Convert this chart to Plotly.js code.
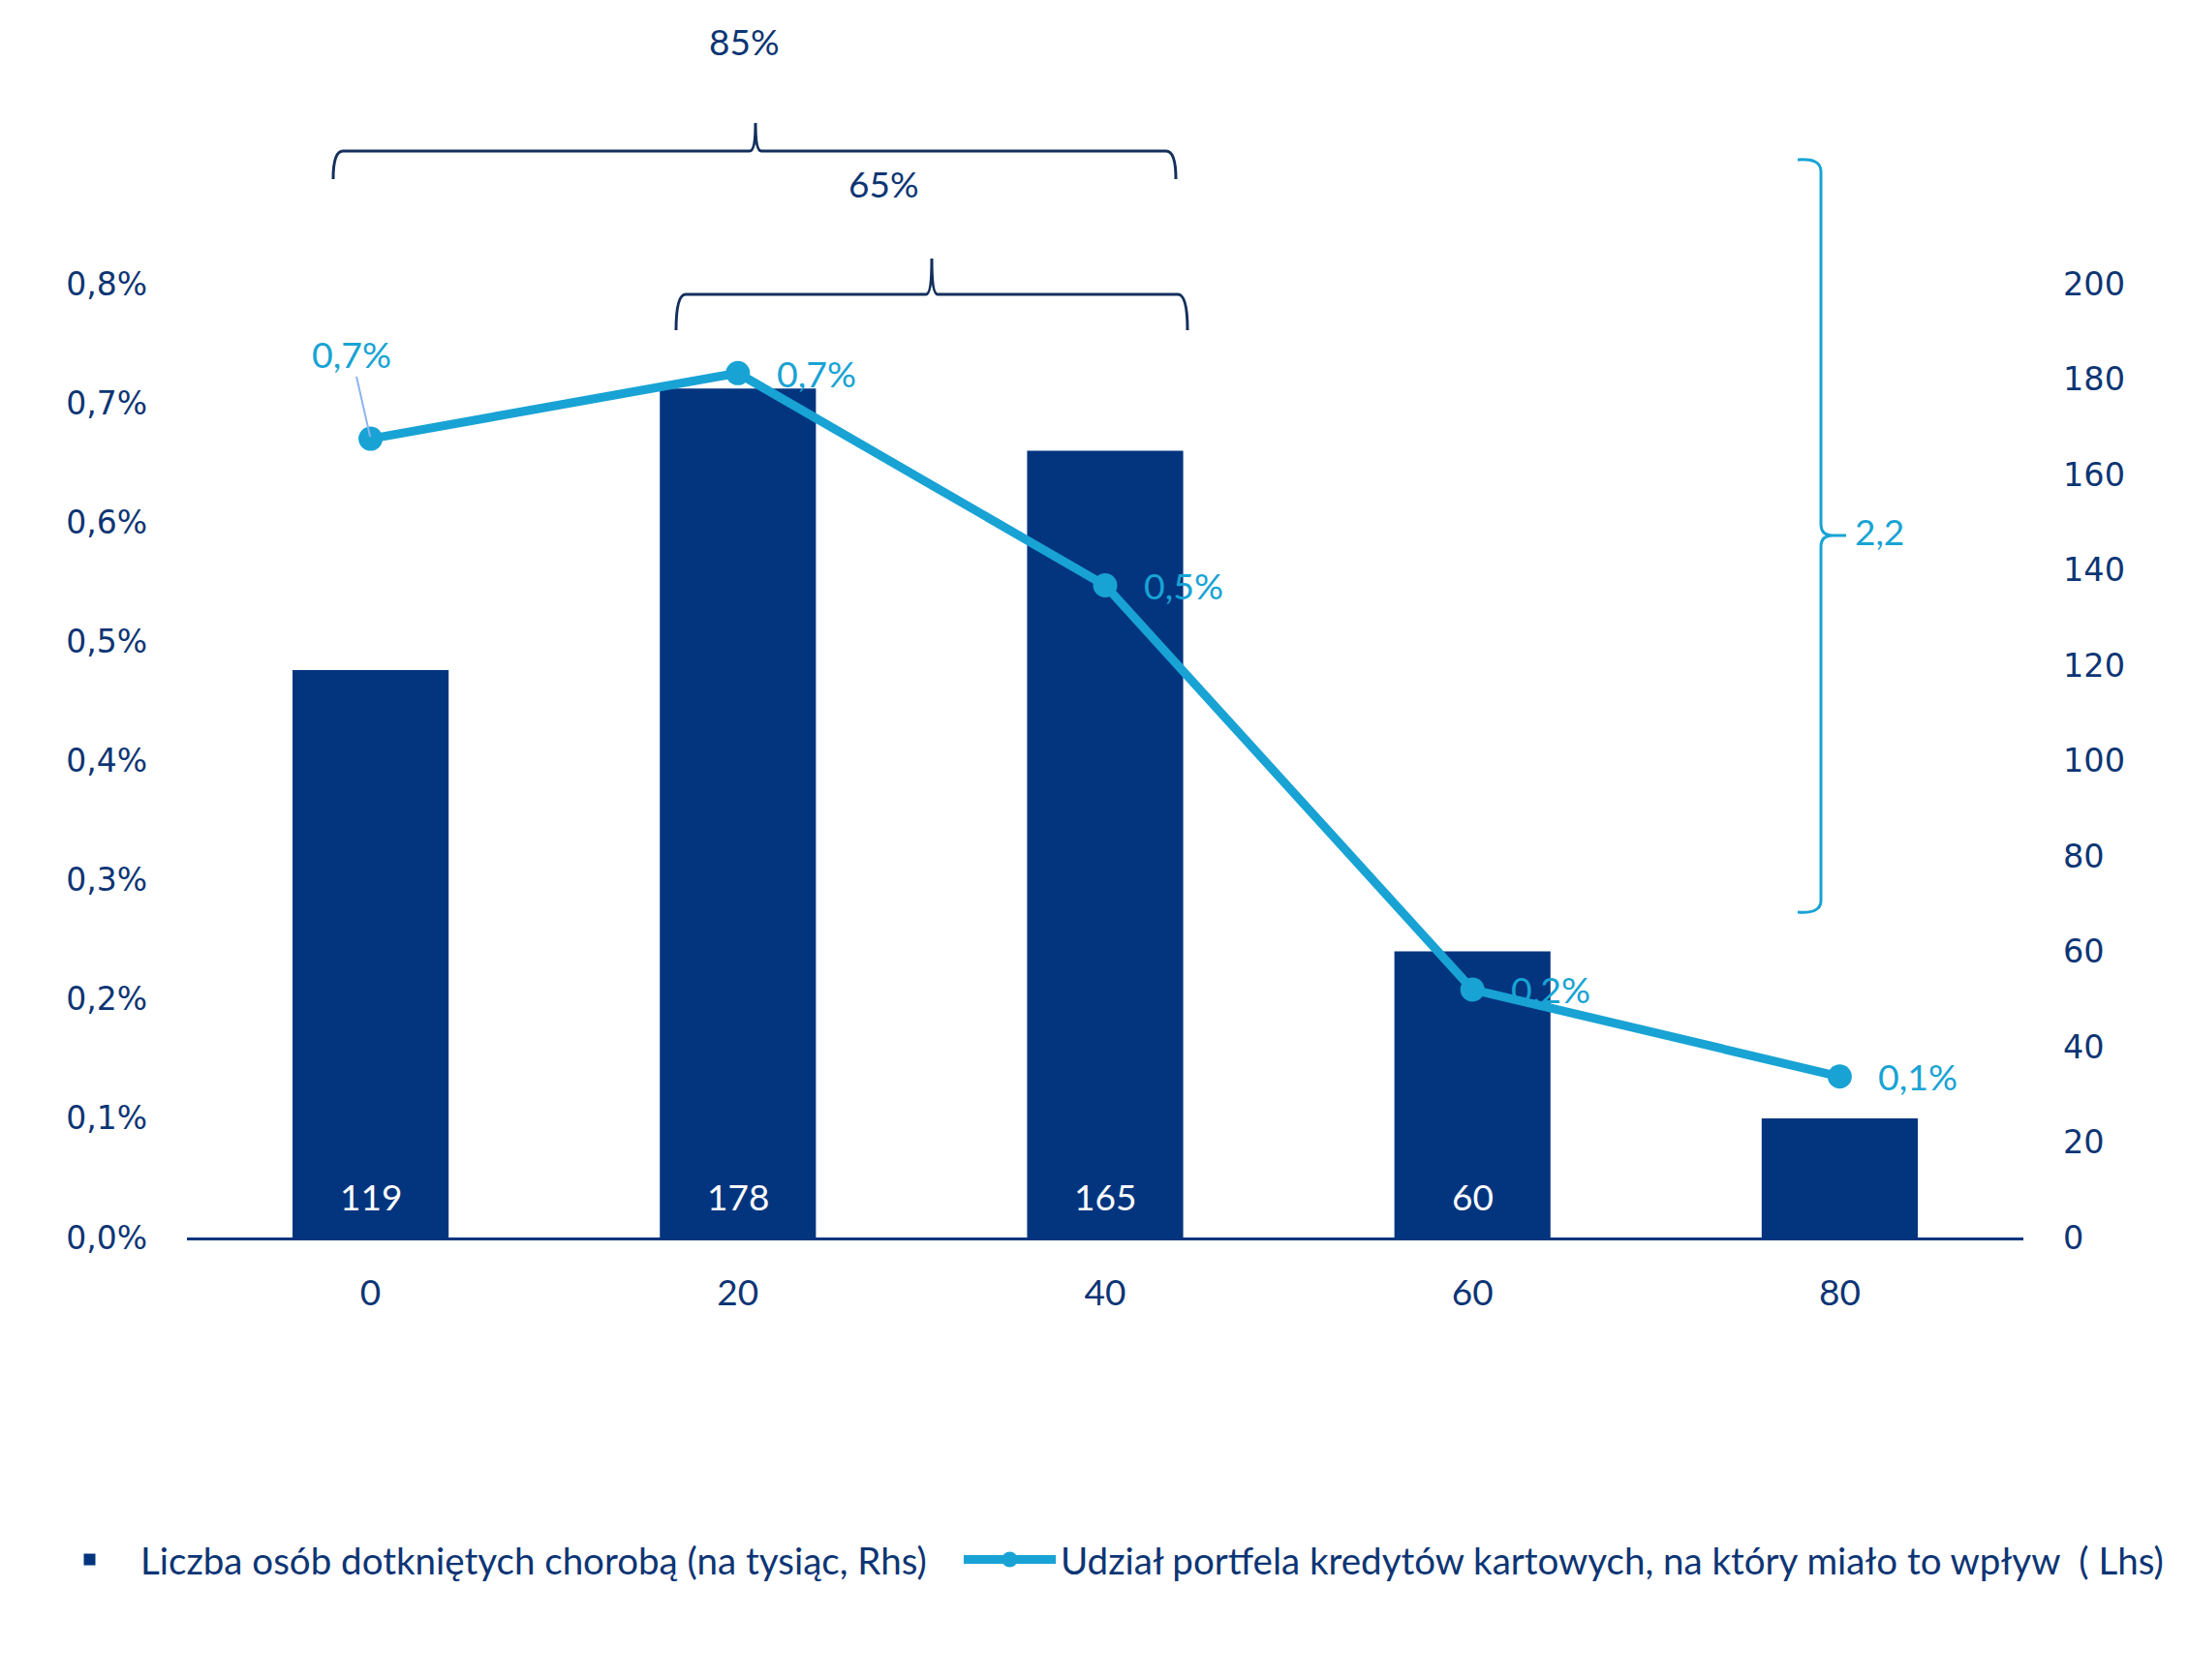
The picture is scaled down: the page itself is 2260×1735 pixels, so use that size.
<!DOCTYPE html>
<html>
<head>
<meta charset="utf-8">
<script src="https://cdn.plot.ly/plotly-3.0.1.min.js"></script>
<style>html,body{margin:0;padding:0;background:#fff;}#chart{width:2260px;height:1735px;}</style>
</head>
<body>
<div id="chart"></div>
<script>
// ---- data ----
const categories = ['0', '20', '40', '60', '80'];
const affectedPerThousand = [119, 178, 165, 60, 25];        // bars, right axis
const barLabelShown = [true, true, true, true, false];
const portfolioShare = [0.0067, 0.00725, 0.00547, 0.00208, 0.00135]; // line, left axis
const barName = 'Liczba osób dotkniętych chorobą (na tysiąc, Rhs)';
const lineName = 'Udział portfela kredytów kartowych, na który miało to wpływ \u00a0( Lhs)';
const braceLabels = ['85%', '65%', '2,2'];

// ---- style ----
const NAVY = '#03357f';
const TEXT = '#0d3574';
const LINE = '#18a3d4';
const BRACE = '#14305c';
const W = 2260, H = 1735;
const M = {l: 193, r: 171, t: 293, b: 457};
const PW = W - M.l - M.r, PH = H - M.t - M.b;
const px = x => (x - M.l) / PW;
const py = y => (H - M.b - y) / PH;
const P = (x, y) => px(x).toFixed(5) + ',' + py(y).toFixed(5);

const fmtPct = v => (v * 100).toFixed(1).replace('.', ',') + '%';

const traces = [
  {
    type: 'bar', name: barName, x: categories, y: affectedPerThousand,
    xaxis: 'x', yaxis: 'y', width: 0.425, legend: 'legend',
    marker: {color: NAVY}, hoverinfo: 'x+y'
  },
  {
    type: 'scatter', mode: 'lines+markers', name: lineName,
    x: categories, y: portfolioShare, xaxis: 'x', yaxis: 'y2', legend: 'legend2',
    line: {color: LINE, width: 9}, marker: {color: LINE, size: 25}
  }
];

const annotations = [];
categories.forEach((c, i) => {
  if (barLabelShown[i]) {
    annotations.push({
      x: i, y: 0, xref: 'x', yref: 'y', text: String(affectedPerThousand[i]),
      showarrow: false, xanchor: 'center', yanchor: 'middle', yshift: 43,
      font: {family: 'Lato', size: 37, color: '#ffffff'}
    });
  }
});
portfolioShare.forEach((v, i) => {
  if (i === 0) {
    annotations.push({
      x: i, y: v, xref: 'x', yref: 'y2', text: fmtPct(v),
      showarrow: true, arrowhead: 0, arrowwidth: 2, arrowcolor: '#8db3ee',
      ax: -20, ay: -88, standoff: 2,
      font: {family: 'Lato', size: 37.5, color: LINE}
    });
  } else {
    annotations.push({
      x: i, y: v, xref: 'x', yref: 'y2', text: fmtPct(v),
      showarrow: false, xanchor: 'left', xshift: 38, yanchor: 'middle',
      font: {family: 'Lato', size: 37.5, color: LINE}
    });
  }
});
// brace labels
annotations.push({xref: 'paper', yref: 'paper', x: px(768), y: py(43), xanchor: 'center', yanchor: 'middle',
  text: braceLabels[0], showarrow: false, font: {family: 'Lato', size: 37, color: TEXT}});
annotations.push({xref: 'paper', yref: 'paper', x: px(912), y: py(189), xanchor: 'center', yanchor: 'middle',
  text: braceLabels[1], showarrow: false, font: {family: 'Lato', size: 37, color: TEXT}});
annotations.push({xref: 'paper', yref: 'paper', x: px(1913), y: py(548), xanchor: 'left', yanchor: 'middle',
  text: braceLabels[2], showarrow: false, font: {family: 'Lato', size: 37, color: LINE}});

function hBrace(L, R, Y, B, PX, PY) {
  return 'M' + P(L, B) + ' Q' + P(L, Y) + ' ' + P(L + 10, Y) +
    ' L' + P(PX - 6, Y) + ' Q' + P(PX, Y) + ' ' + P(PX, PY) +
    ' Q' + P(PX, Y) + ' ' + P(PX + 6, Y) +
    ' L' + P(R - 10, Y) + ' Q' + P(R, Y) + ' ' + P(R, B);
}
const vBracePath =
  'M' + P(1856, 165) + ' Q' + P(1880, 163) + ' ' + P(1880, 177) +
  ' L' + P(1880, 541) + ' Q' + P(1880, 553) + ' ' + P(1892, 553) +
  ' L' + P(1906, 553) + ' M' + P(1892, 553) + ' Q' + P(1880, 553) + ' ' + P(1880, 565) +
  ' L' + P(1880, 930) + ' Q' + P(1880, 944) + ' ' + P(1856, 942);

const shapes = [
  {type: 'path', xref: 'paper', yref: 'paper', path: hBrace(344, 1214, 156, 185, 780, 127),
   line: {color: BRACE, width: 3}},
  {type: 'path', xref: 'paper', yref: 'paper', path: hBrace(698, 1226, 304, 341, 962, 267),
   line: {color: BRACE, width: 3}},
  {type: 'path', xref: 'paper', yref: 'paper', path: vBracePath,
   line: {color: LINE, width: 3}}
];

const legendCommon = {
  orientation: 'h', xanchor: 'left', y: py(1579), yanchor: 'top',
  font: {family: 'Lato', size: 38.5, color: TEXT},
  itemwidth: 95, bgcolor: 'rgba(0,0,0,0)'
};

const layout = {
  width: W, height: H,
  margin: M,
  paper_bgcolor: '#ffffff', plot_bgcolor: '#ffffff',
  font: {family: 'Lato', color: TEXT, size: 37},
  separators: ', ',
  showlegend: true,
  legend: Object.assign({}, legendCommon, {x: px(40)}),
  legend2: Object.assign({}, legendCommon, {x: px(990)}),
  xaxis: {
    type: 'category', range: [-0.5, 4.5], showgrid: false, zeroline: false,
    showline: true, linecolor: NAVY, linewidth: 3, ticks: '',
    ticklabelstandoff: 23,
    tickfont: {family: 'Lato', size: 37, color: TEXT}
  },
  yaxis: {
    side: 'right', range: [0, 200], dtick: 20, showgrid: false, zeroline: false,
    showline: false, ticks: '', ticklabelstandoff: 40,
    tickfont: {family: 'DejaVu Sans', size: 33.5, color: TEXT}
  },
  yaxis2: {
    overlaying: 'y', side: 'left', range: [0, 0.008], dtick: 0.001, tickformat: '.1%',
    showgrid: false, zeroline: false, showline: false, ticks: '', ticklabelstandoff: 40,
    tickfont: {family: 'DejaVu Sans', size: 33, color: TEXT}
  },
  annotations: annotations,
  shapes: shapes
};

Plotly.newPlot('chart', traces, layout, {displayModeBar: false, staticPlot: true});
</script>
</body>
</html>
